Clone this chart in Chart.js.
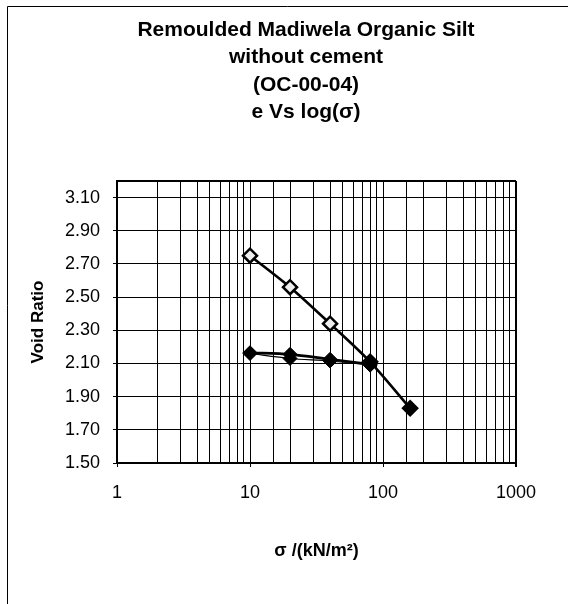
<!DOCTYPE html>
<html><head><meta charset="utf-8">
<script src="https://cdn.jsdelivr.net/npm/chart.js@4/dist/chart.umd.min.js"></script>
<style>html,body{margin:0;padding:0;background:#fff}#wrap{position:relative;width:568px;height:604px}</style>
</head><body><div id="wrap"><canvas id="c" width="568" height="604"></canvas></div>
<script>
const titleLines = ['Remoulded Madiwela Organic Silt', 'without cement', '(OC-00-04)', 'e Vs log(\u03c3)'];
const xAxisTitle = '\u03c3 /(kN/m\u00b2)';
const yAxisTitle = 'Void Ratio';

const sigmaLoading = [10, 20, 40, 80, 160];
const eLoading = [2.75, 2.56, 2.34, 2.11, 1.83];
const sigmaUnloading = [80, 40, 20, 10];
const eUnloading = [2.09, 2.115, 2.13, 2.16];
const sigmaReloading = [10, 20, 40, 80];
const eReloading = [2.165, 2.155, 2.125, 2.095];

const xTickLabels = [1, 10, 100, 1000];
const yTickValues = [1.5, 1.7, 1.9, 2.1, 2.3, 2.5, 2.7, 2.9, 3.1];
const yTickLabels = ['1.50', '1.70', '1.90', '2.10', '2.30', '2.50', '2.70', '2.90', '3.10'];
const xMin = 1, xMax = 1000, yMin = 1.5, yMax = 3.2;

const pts = (xs, ys) => xs.map((x, i) => ({x: x, y: ys[i]}));
const FONT = "'Liberation Sans', Arial, sans-serif";
const isDecade = v => Math.abs(Math.log10(v) - Math.round(Math.log10(v))) < 1e-9;

const framePlugin = {
  id: 'frame',
  afterDraw(chart) {
    const ctx = chart.ctx;
    ctx.save();
    ctx.strokeStyle = '#000';
    ctx.lineWidth = 1;
    ctx.beginPath();
    ctx.moveTo(7.5, 604); ctx.lineTo(7.5, 6.5); ctx.lineTo(568, 6.5);
    ctx.stroke();
    ctx.fillStyle = '#000';
    ctx.font = 'bold 21px ' + FONT;
    ctx.textAlign = 'center';
    ctx.textBaseline = 'middle';
    titleLines.forEach((t, i) => ctx.fillText(t, 306, 30 + i * 27.5));
    ctx.restore();
  }
};

new Chart(document.getElementById('c'), {
  type: 'scatter',
  data: {
    datasets: [
      {
        label: 'Unloading',
        data: pts(sigmaUnloading, eUnloading),
        showLine: true, borderColor: '#000', borderWidth: 1.2, tension: 0.3,
        pointStyle: 'rectRot', pointRadius: 7, pointBackgroundColor: '#000', pointBorderColor: '#000', pointBorderWidth: 1
      },
      {
        label: 'Reloading',
        data: pts(sigmaReloading, eReloading),
        showLine: true, borderColor: '#000', borderWidth: 2.6, tension: 0.3,
        pointStyle: 'rectRot', pointRadius: 7, pointBackgroundColor: '#000', pointBorderColor: '#000', pointBorderWidth: 1
      },
      {
        label: 'Loading',
        data: pts(sigmaLoading, eLoading),
        showLine: true, borderColor: '#000', borderWidth: 2.6, tension: 0.3,
        pointStyle: 'rectRot', pointRadius: 7,
        pointBackgroundColor: ['#eee', '#eee', '#eee', '#000', '#000'],
        pointBorderColor: '#000', pointBorderWidth: 2.5
      }
    ]
  },
  options: {
    responsive: false, animation: false, devicePixelRatio: 1,
    layout: {padding: {left: 0, right: 52, top: 181, bottom: 0}},
    plugins: {
      legend: {display: false},
      tooltip: {enabled: false},
      title: {display: false}
    },
    scales: {
      x: {
        type: 'logarithmic', min: xMin, max: xMax,
        afterFit: s => { s.height = 141; },
        border: {display: true, color: '#000', width: 2},
        grid: {
          color: '#000',
          lineWidth: c => (c.tick && c.tick.value === xMax) ? 2 : 1,
          drawTicks: true, tickLength: 4,
          tickColor: c => (c.tick && isDecade(c.tick.value)) ? '#000' : 'rgba(0,0,0,0)'
        },
        ticks: {
          autoSkip: false, maxRotation: 0, color: '#000', padding: 15,
          font: {family: FONT, size: 18},
          callback: v => xTickLabels.some(t => Math.abs(t - v) < 1e-9) ? String(v) : ''
        },
        title: {
          display: true, text: xAxisTitle, color: '#000',
          font: {family: FONT, size: 18, weight: 'bold'},
          padding: {top: 0, bottom: 42}
        }
      },
      y: {
        type: 'linear', min: yMin, max: yMax,
        afterBuildTicks: s => { s.ticks = yTickValues.concat([yMax]).map(v => ({value: v})); },
        afterFit: s => { s.width = 117; },
        border: {display: true, color: '#000', width: 2},
        grid: {
          color: '#000',
          lineWidth: c => (c.tick && Math.abs(c.tick.value - yMax) < 1e-9) ? 2 : 1,
          drawTicks: true, tickLength: 4,
          tickColor: c => (c.tick && Math.abs(c.tick.value - yMax) < 1e-9) ? 'rgba(0,0,0,0)' : '#000'
        },
        ticks: {
          color: '#000', padding: 13,
          font: {family: FONT, size: 18},
          callback: v => {
            const i = yTickValues.findIndex(t => Math.abs(t - v) < 1e-9);
            return i >= 0 ? yTickLabels[i] : '';
          }
        },
        title: {
          display: true, text: yAxisTitle, color: '#000',
          font: {family: FONT, size: 17, weight: 'bold'},
          padding: {top: 28, bottom: 0}
        }
      }
    }
  },
  plugins: [framePlugin]
});
</script></body></html>
